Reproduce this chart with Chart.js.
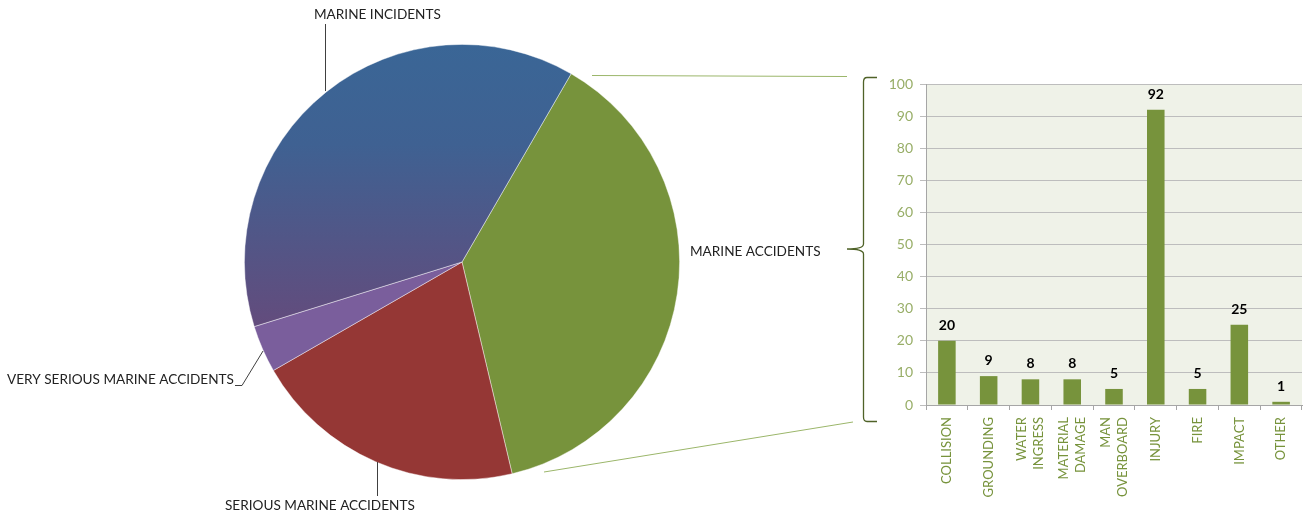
<!DOCTYPE html>
<html>
<head>
<meta charset="utf-8">
<script src="https://cdn.jsdelivr.net/npm/chart.js@4.4.1/dist/chart.umd.min.js"></script>
<style>
  html, body { margin: 0; padding: 0; background: #ffffff; }
  #wrap { position: relative; width: 1303px; height: 516px; overflow: hidden; }
  #pie { position: absolute; left: 0; top: 0; }
  #bar { position: absolute; left: 860px; top: 0; }
</style>
</head>
<body>
<div id="wrap">
  <canvas id="pie" width="1303" height="516"></canvas>
  <canvas id="bar" width="443" height="516"></canvas>
</div>
<script>
// ---- data ----
const pieLabels = ['MARINE ACCIDENTS', 'SERIOUS MARINE ACCIDENTS', 'VERY SERIOUS MARINE ACCIDENTS', 'MARINE INCIDENTS'];
const pieValues = [173, 93, 16, 174];
const barLabels = ['COLLISION', 'GROUNDING', ['WATER', 'INGRESS'], ['MATERIAL', 'DAMAGE'], ['MAN', 'OVERBOARD'], 'INJURY', 'FIRE', 'IMPACT', 'OTHER'];
const barValues = [20, 9, 8, 8, 5, 92, 5, 25, 1];
const yMin = 0, yMax = 100, yStep = 10;

const FONT = 'Lato, "Open Sans", sans-serif';
Chart.defaults.font.family = FONT;
Chart.defaults.animation = false;

// ---- pie chart ----
const pieColors = ['#77933C', '#953735', '#7A5E9C', null];

const pieDecor = {
  id: 'pieDecor',
  afterDraw(chart) {
    const ctx = chart.ctx;
    ctx.save();
    // leader lines
    ctx.strokeStyle = '#404040';
    ctx.lineWidth = 1;
    ctx.beginPath();
    ctx.moveTo(325.5, 24); ctx.lineTo(325.5, 91);
    ctx.moveTo(235, 385.5); ctx.lineTo(242, 385.5); ctx.lineTo(263, 351);
    ctx.moveTo(377.5, 462); ctx.lineTo(377.5, 496);
    ctx.stroke();
    // labels
    ctx.fillStyle = '#222222';
    ctx.font = '13.6px ' + FONT;
    ctx.textBaseline = 'middle';
    ctx.textAlign = 'left';
    ctx.fillText(pieLabels[3], 314, 15);
    ctx.fillText(pieLabels[2], 7, 380);
    ctx.fillText(pieLabels[1], 225, 506);
    ctx.fillText(pieLabels[0], 690, 252);
    // connector lines to bar chart
    ctx.strokeStyle = '#9BB66A';
    ctx.lineWidth = 1;
    ctx.beginPath();
    ctx.moveTo(592, 75.5); ctx.lineTo(847, 76.5);
    ctx.moveTo(544, 472); ctx.lineTo(853, 422);
    ctx.stroke();
    // bracket
    ctx.strokeStyle = '#4F6228';
    ctx.lineWidth = 1.3;
    ctx.beginPath();
    ctx.moveTo(877, 77.5);
    ctx.lineTo(867, 77.5);
    ctx.quadraticCurveTo(863.5, 77.5, 863.5, 82);
    ctx.lineTo(863.5, 244);
    ctx.quadraticCurveTo(863.5, 249, 847, 249);
    ctx.quadraticCurveTo(863.5, 249, 863.5, 254);
    ctx.lineTo(863.5, 417);
    ctx.quadraticCurveTo(863.5, 421.5, 867, 421.5);
    ctx.lineTo(877, 421.5);
    ctx.stroke();
    ctx.restore();
  }
};

new Chart(document.getElementById('pie'), {
  type: 'pie',
  data: {
    labels: pieLabels,
    datasets: [{
      data: pieValues,
      backgroundColor(c) {
        if (c.dataIndex === 3) {
          const ch = c.chart;
          const a = ch.chartArea;
          if (!a) return '#4A5C8C';
          const g = ch.ctx.createLinearGradient(0, a.top, 0, a.top + (a.bottom - a.top) * 0.66);
          g.addColorStop(0, '#3A6696');
          g.addColorStop(0.35, '#3F6192');
          g.addColorStop(1, '#644B7C');
          return g;
        }
        return pieColors[c.dataIndex];
      },
      borderColor: 'rgba(255,255,255,0.55)',
      borderWidth: 0.8
    }]
  },
  options: {
    responsive: false,
    rotation: 30.1,
    layout: { padding: { left: 244, right: 623, top: 44, bottom: 36 } },
    plugins: { legend: { display: false }, tooltip: { enabled: false } }
  },
  plugins: [pieDecor]
});

// ---- bar chart ----
const barDecor = {
  id: 'barDecor',
  beforeDraw(chart) {
    const a = chart.chartArea;
    const ctx = chart.ctx;
    ctx.save();
    ctx.fillStyle = '#EFF2E8';
    ctx.fillRect(a.left, a.top, a.right - a.left, a.bottom - a.top);
    ctx.restore();
  },
  afterDatasetsDraw(chart) {
    const ctx = chart.ctx;
    const meta = chart.getDatasetMeta(0);
    ctx.save();
    ctx.fillStyle = '#000000';
    ctx.font = 'bold 14px ' + FONT;
    ctx.textAlign = 'center';
    ctx.textBaseline = 'alphabetic';
    meta.data.forEach((el, i) => {
      ctx.fillText(String(barValues[i]), el.x, el.y - 11);
    });
    ctx.restore();
  },
  afterDraw(chart) {
    // category labels, rotated, lines centred on each category
    const xs = chart.scales.x;
    const ctx = chart.ctx;
    ctx.save();
    ctx.fillStyle = '#77933C';
    ctx.font = '13px ' + FONT;
    ctx.textAlign = 'right';
    ctx.textBaseline = 'middle';
    const top = xs.top + 12;
    barLabels.forEach((lab, i) => {
      const lines = Array.isArray(lab) ? lab : [lab];
      const cx = xs.getPixelForTick(i);
      lines.forEach((ln, j) => {
        const off = (j - (lines.length - 1) / 2) * 17;
        ctx.save();
        ctx.translate(cx + off, top);
        ctx.rotate(-Math.PI / 2);
        ctx.fillText(ln, 0, 0);
        ctx.restore();
      });
    });
    ctx.restore();
  }
};

new Chart(document.getElementById('bar'), {
  type: 'bar',
  data: {
    labels: barLabels,
    datasets: [{
      data: barValues,
      backgroundColor: '#77933C',
      barPercentage: 0.42,
      categoryPercentage: 1.0
    }]
  },
  options: {
    responsive: false,
    layout: { padding: { left: 0, right: 1, top: 84, bottom: 0 } },
    plugins: { legend: { display: false }, tooltip: { enabled: false } },
    scales: {
      x: {
        afterFit(s) { s.height = 111; },
        grid: { display: true, drawOnChartArea: false, drawTicks: true, tickLength: 5, color: '#A6A6A6', offset: true },
        border: { display: true, color: '#A6A6A6' },
        ticks: { display: false, autoSkip: false }
      },
      y: {
        min: yMin, max: yMax,
        afterFit(s) { s.width = 66; },
        grid: { color: '#BDBDBD', tickLength: 6, drawTicks: true },
        border: { display: true, color: '#A6A6A6' },
        ticks: {
          stepSize: yStep,
          color: '#98AE68',
          font: { size: 14, family: FONT },
          padding: 7
        }
      }
    }
  },
  plugins: [barDecor]
});
</script>
</body>
</html>
